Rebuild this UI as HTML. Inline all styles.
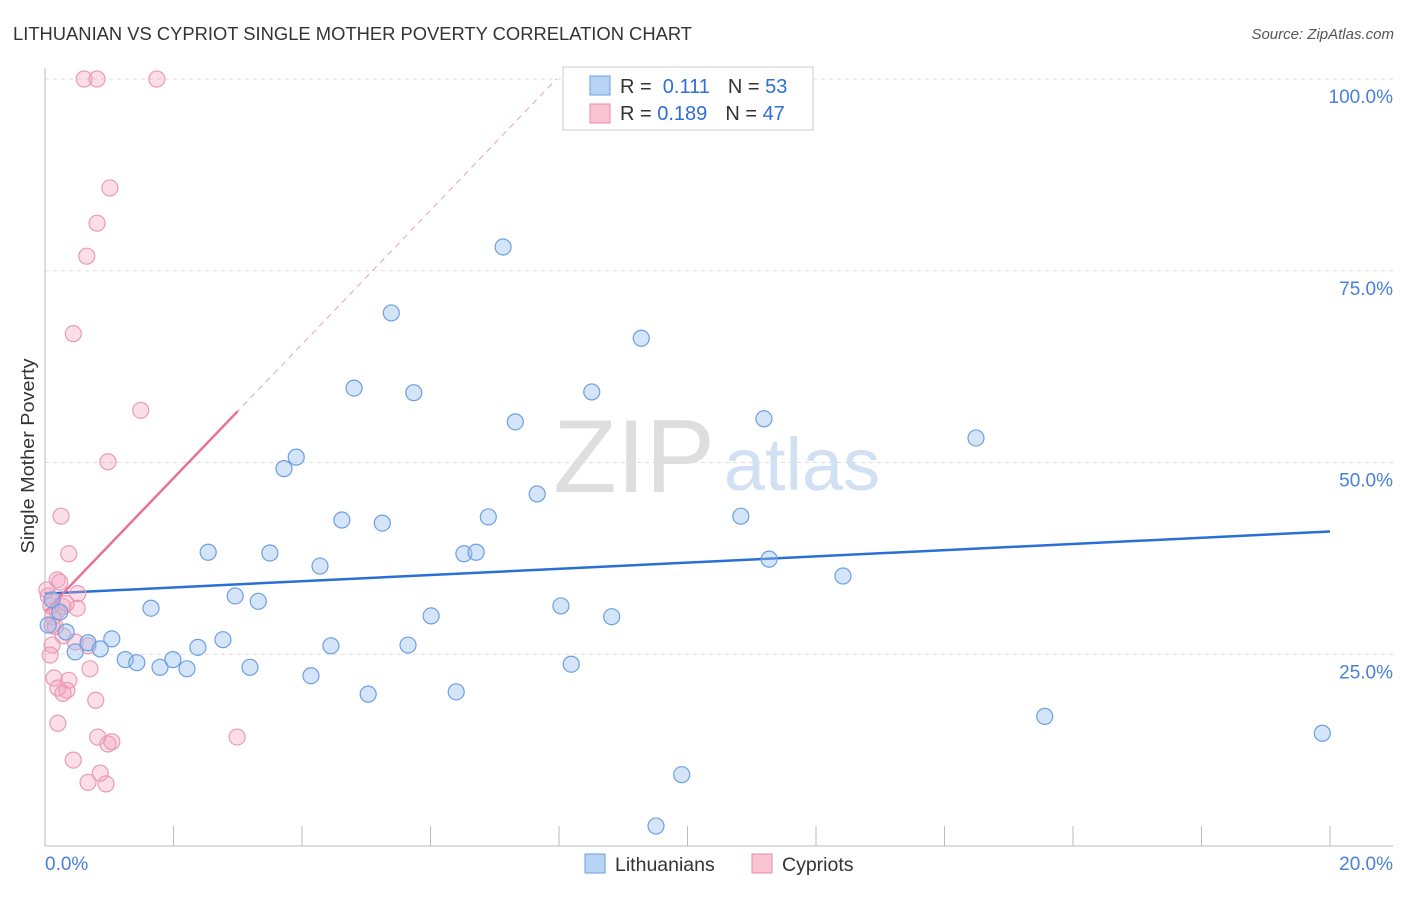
<!DOCTYPE html>
<html><head><meta charset="utf-8"><style>
body{margin:0;background:#fff;font-family:"Liberation Sans",sans-serif;}
svg text{font-family:"Liberation Sans",sans-serif;}
</style></head><body>
<svg id="chart" width="1406" height="892" viewBox="0 0 1406 892">
<text x="13" y="40" font-size="18" fill="#333" textLength="679" lengthAdjust="spacingAndGlyphs">LITHUANIAN VS CYPRIOT SINGLE MOTHER POVERTY CORRELATION CHART</text>
<text x="1394" y="39" font-size="15" fill="#555" text-anchor="end" font-style="italic">Source: ZipAtlas.com</text>
<text transform="translate(34,456) rotate(-90)" font-size="18" fill="#333" text-anchor="middle" textLength="195" lengthAdjust="spacingAndGlyphs">Single Mother Poverty</text>
<g>
<text x="634" y="492" font-size="104" fill="#d4d4d4" font-family="Liberation Serif" text-anchor="middle" opacity="0.75">ZIP</text>
<text x="802" y="490" font-size="74" fill="#c4d6f0" text-anchor="middle" opacity="0.75">atlas</text>
</g>
<g id="grid"></g><g id="axes"></g><g id="trends"></g><g id="points"></g>
<g>
<rect x="563" y="67" width="250" height="63" fill="#fff" stroke="#ccc"/>
<rect x="590" y="76" width="20" height="19" fill="#b8d4f4" stroke="#6a9fe0"/>
<rect x="590" y="104" width="20" height="19" fill="#f9c5d5" stroke="#e88aa8"/>
<text x="620" y="93" font-size="20" fill="#333">R = <tspan fill="#2f6ed6">&#160;0.111</tspan><tspan dx="18" fill="#333">N = </tspan><tspan fill="#2f6ed6">53</tspan></text>
<text x="620" y="120" font-size="20" fill="#333">R = <tspan fill="#2f6ed6">0.189</tspan><tspan dx="18" fill="#333">N = </tspan><tspan fill="#2f6ed6">47</tspan></text>
</g>
<g>
<rect x="585" y="854" width="20" height="19" fill="#b8d4f4" stroke="#6a9fe0"/>
<text x="615" y="871" font-size="19.5" fill="#333">Lithuanians</text>
<rect x="752" y="854" width="20" height="19" fill="#f9c5d5" stroke="#e88aa8"/>
<text x="782" y="871" font-size="19.5" fill="#333">Cypriots</text>
</g>
</svg>
<script>
const blueX=[7.13,5.39,9.28,4.81,5.74,8.51,7.32,11.19,14.49,3.91,3.72,7.66,4.62,5.25,6.90,10.83,2.54,3.50,6.52,6.71,4.28,11.27,12.42,2.96,3.32,1.65,8.03,6.01,8.82,1.04,0.67,0.86,0.47,0.33,0.11,2.38,2.77,4.45,5.65,1.25,1.43,1.79,1.99,2.21,3.19,4.14,8.19,5.03,6.40,15.56,19.88,9.91,9.51,0.23,0.05];
const blueY=[78.1,69.5,66.2,59.7,59.1,59.2,55.3,55.7,53.2,50.7,49.2,45.9,42.5,42.1,42.9,43.0,38.3,38.2,38.1,38.3,36.5,37.4,35.2,32.6,31.9,31.0,31.3,30.0,29.9,27.0,26.5,25.7,25.3,27.9,32.1,25.9,26.9,26.1,26.2,24.3,23.9,23.3,24.3,23.1,23.3,22.2,23.7,19.8,20.1,16.9,14.7,9.3,2.6,30.5,28.8];
const pinkX=[0.61,0.81,1.74,1.01,0.81,0.65,0.44,1.49,0.98,0.25,0.37,0.19,0.23,0.51,0.09,0.28,0.50,0.19,0.12,0.33,0.16,0.28,0.47,0.67,0.11,0.08,0.70,0.14,0.37,0.34,0.20,0.28,0.79,0.20,0.82,0.98,1.04,2.99,0.44,0.86,0.67,0.95,0.05,0.03,0.11];
const pinkY=[100,100,100,85.8,81.2,76.9,66.8,56.8,50.1,43.0,38.1,34.7,34.4,32.9,31.3,31.2,31.0,30.6,29.9,31.6,28.6,27.4,26.6,26.1,26.2,24.9,23.1,21.9,21.6,20.3,20.6,19.9,19.0,16.0,14.2,13.3,13.6,14.2,11.2,9.5,8.3,8.1,32.6,33.4,28.8];
const blueTrend=[32.9,41.0];      // y at x=0 and x=20
const pinkTrend=[30.5,8.73];       // intercept, slope per %
const yTicks=[25,50,75,100];
const yTickLabels=["25.0%","50.0%","75.0%","100.0%"];
const xTickCount=10;

const NS="http://www.w3.org/2000/svg";
const X=v=>45+v/20*1285;
const Y=v=>846-v/100*767;
function mk(p,t,a){const e=document.createElementNS(NS,t);for(const k in a)e.setAttribute(k,a[k]);p.appendChild(e);return e;}
const grid=document.getElementById('grid'),axes=document.getElementById('axes'),trends=document.getElementById('trends'),pts=document.getElementById('points');
yTicks.forEach((t,i)=>{
 const l=mk(grid,'line',{x1:45,x2:1393,y1:Y(t),y2:Y(t),stroke:'#ddd','stroke-dasharray':'4,4'});
 
 
 const tx=mk(axes,'text',{x:1393,y:Y(t)+24,'font-size':19,fill:'#4a80d8','text-anchor':'end'});
 tx.textContent=yTickLabels[i];
 
 
});
const la=mk(axes,'line',{x1:45,x2:45,y1:68,y2:846,stroke:'#bbb'});


const lb=mk(axes,'line',{x1:45,x2:1393,y1:846,y2:846,stroke:'#bbb'});


for(let i=0;i<=xTickCount;i++){
 const xv=i*20/xTickCount;
 const t=mk(axes,'line',{x1:X(xv),x2:X(xv),y1:826,y2:846,stroke:'#bbb'});
 
 
}
const x0=mk(axes,'text',{x:45,y:870,'font-size':19,fill:'#4a80d8'});x0.textContent='0.0%';


const x1=mk(axes,'text',{x:1393,y:870,'font-size':19,fill:'#4a80d8','text-anchor':'end'});x1.textContent='20.0%';



const bt=mk(trends,'line',{x1:X(0),y1:Y(blueTrend[0]),x2:X(20),y2:Y(blueTrend[1]),stroke:'#2a6fd6','stroke-width':2.5});


const pxEnd=(100-pinkTrend[0])/pinkTrend[1];
const pd=mk(trends,'line',{x1:X(0),y1:Y(pinkTrend[0]),x2:X(pxEnd),y2:Y(100),stroke:'#e8a0b8','stroke-width':1,'stroke-dasharray':'6,5'});


const ps=mk(trends,'line',{x1:X(0),y1:Y(pinkTrend[0]),x2:X(3),y2:Y(pinkTrend[0]+3*pinkTrend[1]),stroke:'#e8709a','stroke-width':2.5});



pinkX.forEach((v,i)=>{
 const c=mk(pts,'circle',{cx:X(v),cy:Y(pinkY[i]),r:8,fill:'rgba(244,160,188,0.35)',stroke:'#eb9ab5','stroke-width':1.2});
 
 
});
blueX.forEach((v,i)=>{
 const c=mk(pts,'circle',{cx:X(v),cy:Y(blueY[i]),r:8,fill:'rgba(150,190,240,0.4)',stroke:'#6d9fe0','stroke-width':1.2});
 
 
});
</script>
</body></html>
